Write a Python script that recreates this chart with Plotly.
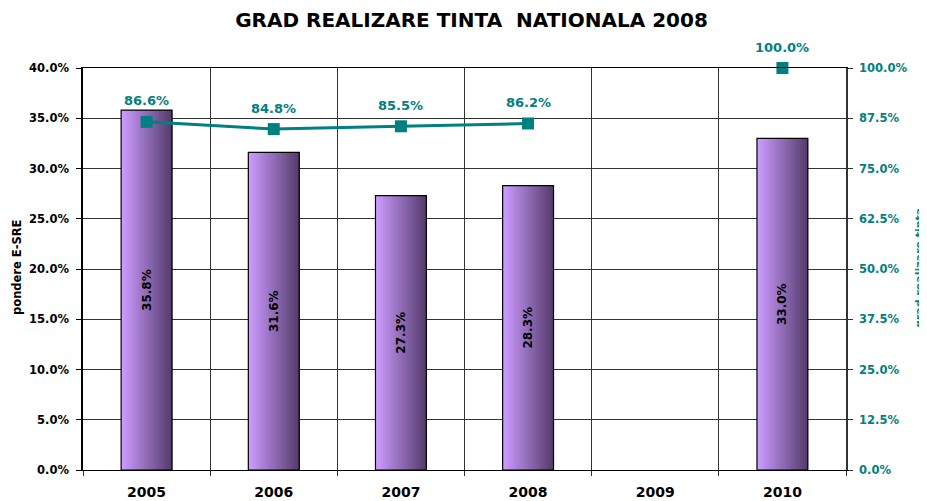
import plotly.graph_objects as go

years = ["2005", "2006", "2007", "2008", "2009", "2010"]
pondere = [35.8, 31.6, 27.3, 28.3, None, 33.0]
grad = [86.6, 84.8, 85.5, 86.2, None, 100.0]
bar_labels = ["35.8%", "31.6%", "27.3%", "28.3%", "", "33.0%"]
grad_labels = ["86.6%", "84.8%", "85.5%", "86.2%", "", "100.0%"]

TEAL = "#008080"
FONT = "DejaVu Sans, sans-serif"

fig = go.Figure()

# gradient bars built from overlapping slices (later slices start further right)
n = 20
bw = 0.4
c0 = (204, 155, 255)
c1 = (86, 62, 110)
for i in range(n):
    t = i / (n - 1)
    col = tuple(int(c0[k] + (c1[k] - c0[k]) * t) for k in range(3))
    start = -bw / 2 + i * bw / n
    fig.add_trace(go.Bar(
        x=years, y=pondere, width=bw / 2 - start, offset=start,
        marker=dict(color="rgb(%d,%d,%d)" % col, line=dict(width=0)),
        showlegend=False, hoverinfo="skip",
    ))

# outline + labels
fig.add_trace(go.Bar(
    x=years, y=pondere, width=bw, offset=-bw / 2,
    marker=dict(color="rgba(0,0,0,0)", line=dict(color="black", width=1.2)),
    text=bar_labels, textposition="inside", insidetextanchor="middle",
    textangle=-90, textfont=dict(family=FONT, size=12, color="black", weight="bold"),
    showlegend=False,
))

fig.add_trace(go.Scatter(
    x=years, y=grad, yaxis="y2", mode="lines+markers",
    line=dict(color=TEAL, width=3), connectgaps=False,
    marker=dict(symbol="square", size=12, color=TEAL),
    showlegend=False, cliponaxis=False,
))

annotations = [
    dict(text="<b>pondere E-SRE</b>", xref="paper", yref="paper", x=-0.0865, y=0.505,
         textangle=-90, showarrow=False, xanchor="center", yanchor="middle",
         font=dict(family=FONT, size=11.5, color="black")),
    dict(text="<b>grad realizare tinta</b>", xref="paper", yref="paper", x=1.0955, y=0.502,
         textangle=-90, showarrow=False, xanchor="center", yanchor="middle",
         font=dict(family=FONT, size=11, color=TEAL)),
]
for idx, (v, lab) in enumerate(zip(grad, grad_labels)):
    if v is None:
        continue
    annotations.append(dict(
        text="<b>%s</b>" % lab, x=idx, y=v, xref="x", yref="y2", yshift=21,
        showarrow=False, xanchor="center", yanchor="middle",
        font=dict(family=FONT, size=13, color=TEAL),
    ))

fig.update_layout(
    width=927, height=501,
    margin=dict(l=75, r=89, t=60, b=39, autoexpand=False),
    paper_bgcolor="white", plot_bgcolor="white",
    barmode="overlay",
    title=dict(text="<b>GRAD REALIZARE TINTA  NATIONALA 2008</b>", x=0.5, xanchor="center",
               y=0.976, yanchor="middle", font=dict(family=FONT, size=20, color="black")),
    font=dict(family=FONT, color="black"),
    xaxis=dict(
        type="category", categoryorder="array", categoryarray=years,
        tickson="boundaries", showgrid=True, gridcolor="#333333", gridwidth=1,
        ticks="outside", ticklen=5, tickcolor="#333333", automargin=False,
        showline=True, linecolor="black", linewidth=1, mirror=True, ticklabelstandoff=9,
        tickfont=dict(family=FONT, size=14, color="black", weight="bold"),
    ),
    yaxis=dict(
        range=[0, 40], dtick=5, tickformat=".1f", ticksuffix="%",
        showgrid=True, gridcolor="#333333", gridwidth=1, automargin=False,
        ticks="outside", ticklen=5, tickcolor="black", ticklabelstandoff=5,
        showline=True, linecolor="black", linewidth=1.5,
        tickfont=dict(family=FONT, size=11.5, color="black", weight="bold"),
        zeroline=False,
    ),
    yaxis2=dict(
        range=[0, 100], dtick=12.5, tickformat=".1f", ticksuffix="%",
        overlaying="y", side="right", showgrid=False, automargin=False,
        ticks="outside", ticklen=5, tickcolor="#333333", ticklabelstandoff=4,
        showline=True, linecolor="#333333", linewidth=1.5,
        tickfont=dict(family=FONT, size=11.5, color=TEAL, weight="bold"),
        zeroline=False,
    ),
    annotations=annotations,
)

fig.write_html("out.html")
